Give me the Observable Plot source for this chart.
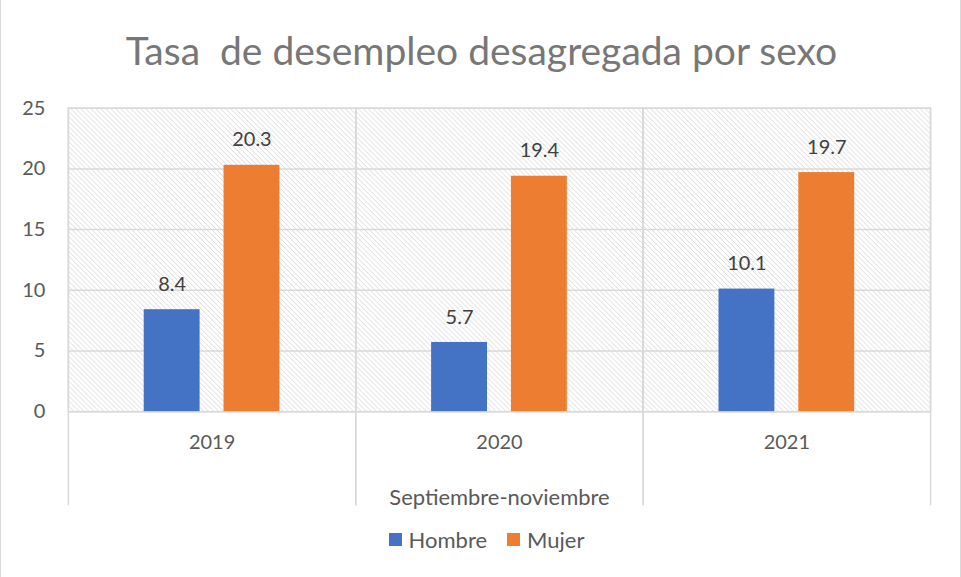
<!DOCTYPE html>
<html>
<head>
<meta charset="utf-8">
<script src="https://cdn.jsdelivr.net/npm/d3@7"></script>
<script src="https://cdn.jsdelivr.net/npm/@observablehq/plot@0.6"></script>
<style>
  html, body { margin: 0; padding: 0; background: #fff; }
  #chart { position: relative; width: 961px; height: 577px; box-sizing: border-box; border-left: 1px solid #d9d9d9; border-right: 1px solid #d9d9d9; font-family: Lato, "Open Sans", sans-serif; overflow: hidden; }
  #title { position: absolute; top: 31px; left: 0; width: 961px; text-align: center; font-size: 39px; color: #777777; line-height: 1; white-space: pre; }
  #plot { position: absolute; top: 0; left: 0; }
  #legend { position: absolute; top: 526px; left: 0; width: 961px; display: flex; justify-content: center; gap: 20px; font-size: 22px; color: #595959; padding-left: 10px; box-sizing: border-box; }
  .item { display: flex; align-items: center; gap: 7px; }
  .sw { width: 13px; height: 13px; display: inline-block; }
</style>
</head>
<body>
<svg width="0" height="0" style="position:absolute">
  <defs>
    <pattern id="hatch" patternUnits="userSpaceOnUse" width="5" height="5">
      <rect width="5" height="5" fill="#ffffff"/>
      <path d="M0,0 L5,5 M-1,4 L1,6 M4,-1 L6,1" stroke="#d6d6d6" stroke-width="0.9"/>
    </pattern>
  </defs>
</svg>
<div id="chart">
  <div id="title">Tasa  de desempleo desagregada por sexo</div>
  <div id="plot"></div>
  <div id="legend"></div>
</div>
<script>
const years = ["2019", "2020", "2021"];
const series = ["Hombre", "Mujer"];
const hombre = [8.4, 5.7, 10.1];
const mujer = [20.3, 19.4, 19.7];
const yTicks = [0, 5, 10, 15, 20, 25];
const colors = ["#4472C4", "#ED7D31"];
const axisTitle = "Septiembre-noviembre";

const data = [];
years.forEach((yr, i) => {
  data.push({year: yr, sex: series[0], value: hombre[i]});
  data.push({year: yr, sex: series[1], value: mujer[i]});
});

const chart = Plot.plot({
  width: 961,
  height: 520,
  marginTop: 108,
  marginBottom: 108,
  marginLeft: 66,
  marginRight: 29,
  style: {fontFamily: "Lato, 'Open Sans', sans-serif", color: "#595959", background: "transparent"},
  fx: {domain: years, padding: 0},
  x: {domain: series, paddingInner: 0.296, paddingOuter: 0.93, axis: null},
  y: {domain: [0, 25]},
  color: {domain: series, range: colors},
  marks: [
    Plot.frame({fill: "url(#hatch)", stroke: "#d9d9d9", strokeWidth: 1.5}),
    Plot.gridY(yTicks, {stroke: "#d9d9d9", strokeOpacity: 1, strokeWidth: 1.5}),
    Plot.frame({anchor: "left", stroke: "#d9d9d9", strokeWidth: 1.5, insetBottom: -93}),
    Plot.frame({anchor: "right", stroke: "#d9d9d9", strokeWidth: 1.5, insetBottom: -93}),
    Plot.barY(data, {fx: "year", x: "sex", y: "value", fill: "sex"}),
    Plot.text(data, {fx: "year", x: "sex", y: "value", text: d => d.value.toFixed(1), lineAnchor: "bottom", dy: -19, fontSize: 20, fill: "#404040"}),
    Plot.axisY(yTicks, {tickSize: 0, tickPadding: 23, fontSize: 20, label: null, fill: "#595959"}),
    Plot.axisFx({anchor: "bottom", tickSize: 0, tickPadding: 23, fontSize: 20, fill: "#595959", label: null}),
    Plot.axisFx({anchor: "bottom", tickSize: 0, ticks: [], fontSize: 22, fill: "#595959", label: axisTitle, labelAnchor: "center", labelOffset: 94})
  ]
});
document.getElementById("plot").appendChild(chart);

const legend = document.getElementById("legend");
series.forEach((s, i) => {
  const it = document.createElement("div");
  it.className = "item";
  const sw = document.createElement("span");
  sw.className = "sw";
  sw.style.background = colors[i];
  const t = document.createElement("span");
  t.textContent = s;
  it.appendChild(sw);
  it.appendChild(t);
  legend.appendChild(it);
});
</script>
</body>
</html>
